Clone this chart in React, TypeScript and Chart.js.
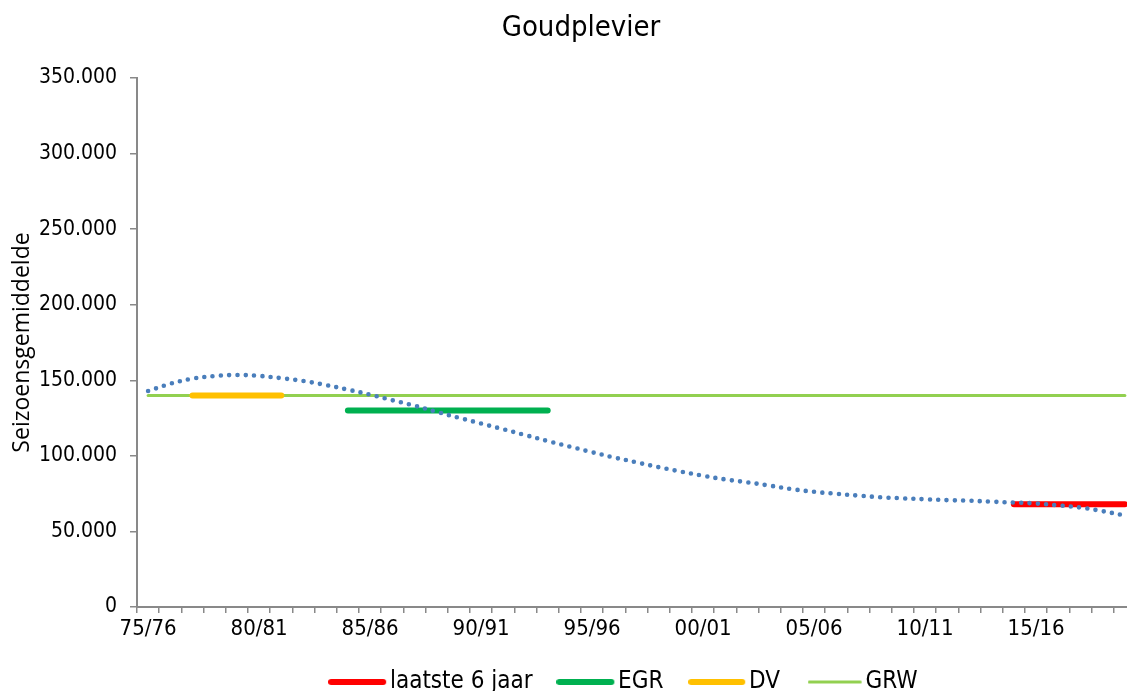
import React, { useEffect, useRef } from 'react';
import { Chart, registerables } from 'chart.js';

Chart.register(...registerables);

// ---- data ----
const seasons = [
  '75/76', '76/77', '77/78', '78/79', '79/80', '80/81', '81/82', '82/83', '83/84', '84/85',
  '85/86', '86/87', '87/88', '88/89', '89/90', '90/91', '91/92', '92/93', '93/94', '94/95',
  '95/96', '96/97', '97/98', '98/99', '99/00', '00/01', '01/02', '02/03', '03/04', '04/05',
  '05/06', '06/07', '07/08', '08/09', '09/10', '10/11', '11/12', '12/13', '13/14', '14/15',
  '15/16', '16/17', '17/18', '18/19', '19/20',
];

// polynomial trend line (dotted)
const trendValues = [
  142900, 147700, 151100, 152800, 153500, 152900, 151400, 149500, 146900, 143800,
  140500, 136800, 133200, 129100, 125200, 121400, 117600, 113700, 109800, 106100,
  102400, 98900, 95700, 92500, 89600, 86800, 84400, 82500, 80300, 78000,
  76200, 74900, 73700, 72600, 71900, 71300, 70700, 70300, 69700, 69100,
  68500, 67200, 65800, 63400, 60500,
];

// horizontal reference levels
const laatste6Jaar = { label: 'laatste 6 jaar', value: 68000, from: '14/15', to: '19/20' };
const egr = { label: 'EGR', value: 130000, from: '84/85', to: '93/94' };
const dv = { label: 'DV', value: 140000, from: '77/78', to: '81/82' };
const grw = { label: 'GRW', value: 140000, from: '75/76', to: '19/20' };

const yTicks = [0, 50000, 100000, 150000, 200000, 250000, 300000, 350000];
const labelEvery = 5;

// ---- helpers ----
function levelSeries(seg: { value: number; from: string; to: string }) {
  const a = seasons.indexOf(seg.from);
  const b = seasons.indexOf(seg.to);
  return seasons.map((_, i) => (i >= a && i <= b ? seg.value : null));
}

function formatThousands(v: number) {
  if (v === 0) return '0';
  const s = Math.round(v).toString();
  return s.replace(/\B(?=(\d{3})+(?!\d))/g, '.');
}

const W = 1162;
const H = 704;
const PLOT_RIGHT = 1136;
const LEGEND_FONT = 24;
const LEGEND_PAD = 51;
const SWATCH_BOX = 22.5;
const TEXT_GAP = 3.5;
const FONT = "'DejaVu Sans Condensed', 'DejaVu Sans', sans-serif";
const AXIS = '#898989';

// legend swatch: a line in the left part of a wider transparent image,
// so the line ends just before the label text
function lineImage(color: string, length: number, thickness: number) {
  const c = document.createElement('canvas');
  c.width = Math.round(2 * length - 2 * (SWATCH_BOX / 2 + LEGEND_FONT / 2 - TEXT_GAP));
  c.height = Math.ceil(thickness) + 2;
  const ctx = c.getContext('2d')!;
  ctx.strokeStyle = color;
  ctx.lineWidth = thickness;
  ctx.lineCap = 'round';
  ctx.beginPath();
  ctx.moveTo(thickness / 2, c.height / 2);
  ctx.lineTo(length - thickness / 2, c.height / 2);
  ctx.stroke();
  return c;
}

export default function App() {
  const ref = useRef<HTMLCanvasElement>(null);

  useEffect(() => {
    const canvas = ref.current!;
    const colors = {
      trend: '#4A7EBB',
      red: '#FF0000',
      green: '#00B050',
      yellow: '#FFC000',
      light: '#92D050',
    };
    const legendImgs: Record<number, HTMLCanvasElement> = {
      1: lineImage(colors.red, 58, 6),
      2: lineImage(colors.green, 58, 6),
      3: lineImage(colors.yellow, 57, 6),
      4: lineImage(colors.light, 54, 3),
    };

    const chart = new Chart(canvas, {
      type: 'line',
      data: {
        labels: seasons,
        datasets: [
          {
            label: 'trend',
            data: trendValues,
            borderColor: colors.trend,
            borderWidth: 4.6,
            borderDash: [0, 8.3],
            borderCapStyle: 'round',
            tension: 0.4,
            pointRadius: 0,
            fill: false,
          },
          {
            label: laatste6Jaar.label,
            data: levelSeries(laatste6Jaar),
            borderColor: colors.red,
            backgroundColor: colors.red,
            borderWidth: 6,
            borderCapStyle: 'round',
            pointRadius: 0,
            spanGaps: false,
          },
          {
            label: egr.label,
            data: levelSeries(egr),
            borderColor: colors.green,
            backgroundColor: colors.green,
            borderWidth: 6,
            borderCapStyle: 'round',
            pointRadius: 0,
            spanGaps: false,
          },
          {
            label: dv.label,
            data: levelSeries(dv),
            borderColor: colors.yellow,
            backgroundColor: colors.yellow,
            borderWidth: 6,
            borderCapStyle: 'round',
            pointRadius: 0,
            spanGaps: false,
          },
          {
            label: grw.label,
            data: levelSeries(grw),
            borderColor: colors.light,
            backgroundColor: colors.light,
            borderWidth: 3,
            borderCapStyle: 'round',
            pointRadius: 0,
            spanGaps: false,
          },
        ],
      },
      options: {
        responsive: false,
        animation: false,
        devicePixelRatio: 1,
        layout: { padding: 0 },
        plugins: {
          title: {
            display: true,
            text: 'Goudplevier',
            color: '#000',
            font: { family: FONT, size: 29, weight: 'normal' },
            padding: { top: 10.6, bottom: 32.6 },
          },
          legend: {
            position: 'bottom',
            fullSize: false,
            labels: {
              usePointStyle: true,
              pointStyleWidth: SWATCH_BOX,
              padding: LEGEND_PAD,
              color: '#000',
              font: { family: FONT, size: LEGEND_FONT },
              generateLabels: (ch: any) =>
                Chart.defaults.plugins.legend.labels
                  .generateLabels(ch)
                  .filter((it: any) => it.datasetIndex !== 0)
                  .map((it: any) => ({ ...it, pointStyle: legendImgs[it.datasetIndex] })),
            },
          },
          tooltip: { enabled: false },
        },
        scales: {
          x: {
            type: 'category',
            offset: true,
            grid: {
              display: true,
              drawOnChartArea: false,
              drawTicks: true,
              tickLength: 6,
              offset: true,
              color: AXIS,
              lineWidth: 1.5,
            },
            border: { display: true, color: AXIS, width: 2 },
            ticks: {
              autoSkip: false,
              maxRotation: 0,
              minRotation: 0,
              // mirrored labels are not clipped to the (thin) axis box;
              // the negative padding puts them back below the axis line
              mirror: true,
              padding: -35.4,
              color: '#000',
              font: { family: FONT, size: 22 },
              callback: (_v: any, i: number) => (i % labelEvery === 0 ? seasons[i] : ''),
            },
            afterFit: (s: any) => {
              s.height = 63 - LEGEND_PAD;
            },
          },
          y: {
            min: 0,
            max: 350000,
            afterBuildTicks: (s: any) => {
              s.ticks = yTicks.map((v) => ({ value: v }));
            },
            grid: {
              display: true,
              drawOnChartArea: false,
              drawTicks: true,
              tickLength: 7,
              color: AXIS,
              lineWidth: 1.5,
            },
            border: { display: true, color: AXIS, width: 2 },
            ticks: {
              padding: 13,
              color: '#000',
              font: { family: FONT, size: 21 },
              callback: (v: any) => formatThousands(Number(v)),
            },
            title: {
              display: true,
              text: 'Seizoensgemiddelde',
              color: '#000',
              font: { family: "'Open Sans', sans-serif", size: 23 },
              padding: { top: 9, bottom: 0 },
            },
            afterFit: (s: any) => {
              s.width = 137;
            },
          },
          y2: {
            position: 'right',
            display: true,
            grid: { display: false },
            border: { display: false },
            ticks: { display: false },
            afterFit: (s: any) => {
              s.width = W - PLOT_RIGHT;
            },
          },
        },
      },
    } as any);

    return () => chart.destroy();
  }, []);

  return (
    <div
      style={{
        position: 'fixed',
        left: 0,
        top: 0,
        width: 1127,
        height: 691,
        overflow: 'hidden',
        background: '#fff',
      }}
    >
      <canvas ref={ref} width={W} height={H} style={{ display: 'block', width: W, height: H }} />
    </div>
  );
}
